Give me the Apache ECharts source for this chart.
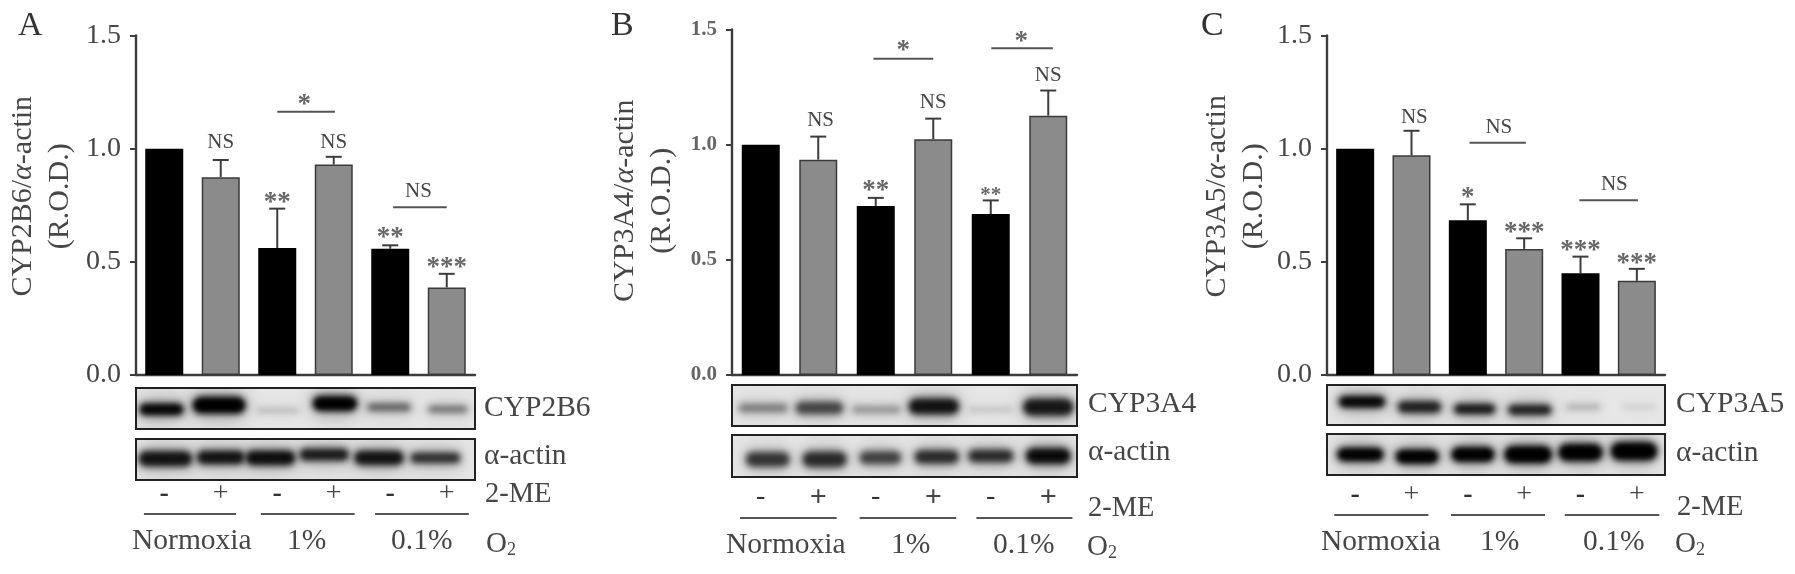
<!DOCTYPE html>
<html><head><meta charset="utf-8">
<style>html,body{margin:0;padding:0;background:#fff}#c{width:1795px;height:574px;filter:blur(.6px)}</style>
<script src="https://cdn.jsdelivr.net/npm/echarts@6/dist/echarts.min.js"></script>
</head><body><div id="c"></div>
<script>
// ---- data ----
const treatment = ['-', '+', '-', '+', '-', '+'];
const o2Groups = ['Normoxia', '1%', '0.1%'];
const yTicks = [0, 0.5, 1.0, 1.5];

const cyp2b6Mean = [1.0, 0.874, 0.561, 0.93, 0.558, 0.387];
const cyp2b6Upper = [null, 0.95, 0.735, 0.964, 0.573, 0.447];
const cyp3a4Mean = [1.0, 0.935, 0.734, 1.024, 0.699, 1.126];
const cyp3a4Upper = [null, 1.035, 0.769, 1.113, 0.758, 1.235];
const cyp3a5Mean = [1.0, 0.971, 0.684, 0.557, 0.45, 0.416];
const cyp3a5Upper = [null, 1.079, 0.754, 0.604, 0.523, 0.469];

// significance marks: [lane, value, text]
const cyp2b6Marks = [[1.0,1.026,'NS'],[3,1.029,'NS'],[2,0.788,'**'],[4,0.633,'**'],[5,0.497,'***'],[2.48,1.22,'*'],[4.5,0.812,'NS']];
const cyp3a4Marks = [[1.04,1.104,'NS'],[3,1.183,'NS'],[5,1.302,'NS'],[2,0.826,'**'],[4,0.807,'**'],[2.48,1.433,'*'],[4.53,1.473,'*']];
const cyp3a5Marks = [[1.05,1.136,'NS'],[2.55,1.095,'NS'],[2,0.807,'*'],[3,0.654,'***'],[4,0.576,'***'],[5,0.519,'***'],[4.6,0.84,'NS']];
// comparison brackets: [fromLane, toLane, value]
const cyp2b6Brackets = [[2,3.02,1.163],[4.05,5,0.741]];
const cyp3a4Brackets = [[1.96,3,1.373],[4.01,5.08,1.419]];
const cyp3a5Brackets = [[2.03,3.03,1.026],[3.98,5.02,0.772]];

// blot band density per lane
const cyp2b6Density = [.95,1,.1,1,.38,.32];
const actinADensity = [.8,.8,.85,.75,.8,.62];
const cyp3a4Density = [.28,.5,.2,.8,.08,.76];
const actinBDensity = [.58,.64,.52,.64,.64,.88];
const cyp3a5Density = [.95,.72,.78,.72,.14,.05];
const actinCDensity = [1,1,1,1,1,1];

// ---- layout ----
const SERIF = '"Liberation Serif","Times New Roman",serif';
const TXT = '#464646';
const OFFSCREEN = 4000;
const panels = [
 {letter:'A', lx:18, ly:11, left:136, right:475, top:35.5, bottom:375, tick:28, tickWeight:'normal', gap:57, nameShift:18, minusBold:true, plusBold:false,
  mean:cyp2b6Mean, upper:cyp2b6Upper, marks:cyp2b6Marks, brackets:cyp2b6Brackets, small:[],
  title:'CYP2B6', blots:[
   {name:'CYP2B6',top:388,bottom:429,dens:cyp2b6Density,off:[-.05,-.03,.01,.02,-.02,.02],y:[.52,.42,.55,.38,.47,.52],w:[.8,.95,.8,.8,.82,.75],h:[.3,.42,.18,.38,.24,.22]},
   {name:'α-actin',top:439,bottom:480,dens:actinADensity,off:[.02,0,-.12,-.17,-.2,-.2],y:[.48,.45,.46,.38,.46,.46],w:[.97,.87,.9,.9,.9,.92],h:[.4,.36,.38,.32,.38,.3]}],
  groups:[[-.36,1.27],[1.71,3.37],[3.73,5.39]], groupY:514, minusY:495,
  txt:{label:[484,408],actin:[484,456],me:[485,495],groupX:[132,287,391],groupTy:541,o2:[486,544]}},
 {letter:'B', lx:611, ly:11, left:732, right:1077, top:29.5, bottom:375, tick:21, tickWeight:'bold', gap:51, nameShift:3, minusBold:false, plusBold:true,
  mean:cyp3a4Mean, upper:cyp3a4Upper, marks:cyp3a4Marks, brackets:cyp3a4Brackets, small:[4],
  title:'CYP3A4', blots:[
   {name:'CYP3A4',top:385,bottom:426,dens:cyp3a4Density,off:[.04,.02,.01,.01,0,0],y:[.56,.56,.6,.52,.6,.54],w:[.9,.87,.9,.9,.82,.9],h:[.28,.36,.26,.42,.2,.46]},
   {name:'α-actin',top:435,bottom:477,dens:actinBDensity,off:[.12,.11,.08,.06,0,0],y:[.58,.58,.54,.52,.5,.5],w:[.8,.8,.76,.8,.82,.8],h:[.4,.42,.36,.36,.34,.4]}],
  groups:[[-.36,1.32],[1.72,3.4],[3.75,5.42]], groupY:518, minusY:498,
  txt:{label:[1088,404],actin:[1088,452],me:[1088,509],groupX:[726,891,993],groupTy:545,o2:[1087,547]}},
 {letter:'C', lx:1201, ly:11, left:1327, right:1665, top:35.5, bottom:375, tick:28, tickWeight:'normal', gap:54.5, nameShift:18, minusBold:true, plusBold:false,
  mean:cyp3a5Mean, upper:cyp3a5Upper, marks:cyp3a5Marks, brackets:cyp3a5Brackets, small:[],
  title:'CYP3A5', blots:[
   {name:'CYP3A5',top:385,bottom:425,dens:cyp3a5Density,off:[.12,.14,.12,.1,.05,.04],y:[.42,.55,.6,.62,.55,.55],w:[.84,.8,.76,.8,.66,.66],h:[.3,.32,.28,.28,.18,.18]},
   {name:'α-actin',top:434,bottom:475,dens:actinCDensity,off:[.09,.1,.09,.07,0,-.05],y:[.5,.55,.5,.5,.45,.42],w:[.84,.78,.78,.86,.8,.84],h:[.34,.36,.38,.44,.44,.46]}],
  groups:[[-.37,1.3],[1.7,3.37],[3.72,5.4]], groupY:515, minusY:496,
  txt:{label:[1676,404],actin:[1676,453],me:[1677,508],groupX:[1321,1480,1583],groupTy:542,o2:[1675,544]}}
];

const grid=[], xAxis=[], yAxis=[], series=[], graphic=[];

function text(x,y,t,size,extra){
  graphic.push({type:'text',x,y,silent:true,style:Object.assign({text:t,fontSize:size,fontFamily:SERIF,fill:TXT,verticalAlign:'middle',align:'left'},extra||{})});
}

// a soft blurred smear: only the shadow of an off-canvas pill reaches the picture
function smear(cx,cy,w,h,alpha,blur){
  return {type:'rect',shape:{x:cx-w/2-OFFSCREEN,y:cy-h/2,width:w,height:h,r:h/2},
    style:{fill:'#000',shadowBlur:blur,shadowColor:'rgba(0,0,0,'+alpha+')',shadowOffsetX:OFFSCREEN}};
}

panels.forEach(p=>{
  const g=grid.length;
  grid.push({left:p.left,top:p.top,width:p.right-p.left,height:p.bottom-p.top,containLabel:false});
  const xCat=xAxis.length;
  xAxis.push({type:'category',gridIndex:g,data:treatment,boundaryGap:true,
    axisTick:{show:false},axisLine:{onZero:false,lineStyle:{color:'#3c3c3c',width:2.4}},
    axisLabel:{interval:0,margin:p.minusY-p.bottom-15,fontFamily:SERIF,color:TXT,fontSize:28,
      formatter:v=>v==='-'?'{m|-}':'{p|+}',
      rich:{m:{fontSize:28,fontFamily:SERIF,fontWeight:p.minusBold?'bold':'normal',color:'#333'},
            p:{fontSize:p.plusBold?30:28,fontFamily:SERIF,fontWeight:p.plusBold?'bold':'normal',color:TXT}}}});
  const xAnn=xAxis.length;
  xAxis.push({type:'value',gridIndex:g,min:-.5,max:5.5,show:false});
  const yi=yAxis.length;
  yAxis.push({type:'value',gridIndex:g,min:yTicks[0],max:yTicks[3],interval:.5,splitLine:{show:false},
    axisLine:{show:true,onZero:false,lineStyle:{color:'#3c3c3c',width:2.4}},
    axisTick:{show:true,length:6,lineStyle:{color:'#3c3c3c',width:2}},
    axisLabel:{margin:15,fontSize:p.tick,fontWeight:p.tickWeight,fontFamily:SERIF,color:p.tickWeight==='bold'?'#666':TXT,formatter:v=>v.toFixed(1)},
    name:'{a|'+p.title+'/}{i|α}{a|-actin}\n{a|(R.O.D.)}',nameLocation:'middle',nameGap:p.gap,
    nameTextStyle:{padding:[0,0,0,p.nameShift],lineHeight:37,align:'center',
      rich:{a:{fontSize:30,fontFamily:SERIF,color:TXT,lineHeight:37},i:{fontSize:30,fontFamily:SERIF,fontStyle:'italic',color:TXT,lineHeight:37}}}});

  // error bars
  series.push({type:'custom',xAxisIndex:xCat,yAxisIndex:yi,z:1,silent:true,
    data:p.upper.map((u,i)=>[i,p.mean[i],u]).filter(d=>d[2]!=null),
    encode:{x:0,y:[1,2]},
    renderItem:(ps,api)=>{
      const a=api.coord([api.value(0),api.value(1)]), b=api.coord([api.value(0),api.value(2)]);
      const st={stroke:'#3c3c3c',lineWidth:2,fill:null};
      return {type:'group',children:[
        {type:'line',shape:{x1:a[0],y1:a[1],x2:b[0],y2:b[1]},style:st},
        {type:'line',shape:{x1:b[0]-8,y1:b[1],x2:b[0]+8,y2:b[1]},style:st}]};
    }});
  // bars
  series.push({type:'bar',xAxisIndex:xCat,yAxisIndex:yi,barWidth:38,z:2,silent:true,
    data:p.mean.map((v,i)=>({value:v,itemStyle:{color:i%2?'#8b8b8b':'#000',borderColor:i%2?'#3a3a3a':'#000',borderWidth:1.5}}))});
  // brackets
  series.push({type:'custom',xAxisIndex:xAnn,yAxisIndex:yi,z:3,silent:true,clip:false,data:p.brackets,
    encode:{x:[0,1],y:2},
    renderItem:(ps,api)=>{
      const a=api.coord([api.value(0),api.value(2)]), b=api.coord([api.value(1),api.value(2)]);
      return {type:'line',shape:{x1:a[0],y1:a[1],x2:b[0],y2:b[1]},style:{stroke:'#555',lineWidth:2}};
    }});
  // marks
  series.push({type:'custom',xAxisIndex:xAnn,yAxisIndex:yi,z:3,silent:true,clip:false,data:p.marks,
    encode:{x:0,y:1},
    renderItem:(ps,api)=>{
      const c=api.coord([api.value(0),api.value(1)]), t=p.marks[ps.dataIndex][2];
      const star=t[0]==='*', small=p.small.includes(ps.dataIndex);
      return {type:'text',x:c[0],y:c[1]+(star?6:0),style:{text:t,fontFamily:SERIF,fontWeight:star?'bold':'normal',fontSize:star?(small?21:27):21,
        fill:star?'#666':TXT,align:'center',verticalAlign:'middle'}};
    }});
  // O2 group lines
  series.push({type:'custom',xAxisIndex:xAnn,yAxisIndex:yi,z:3,silent:true,clip:false,data:p.groups,
    encode:{x:[0,1]},
    renderItem:(ps,api)=>{
      const a=api.coord([api.value(0),0])[0], b=api.coord([api.value(1),0])[0];
      return {type:'line',shape:{x1:a,y1:p.groupY,x2:b,y2:p.groupY},style:{stroke:'#555',lineWidth:2}};
    }});

  // blots
  p.blots.forEach(b=>{
    const gb=grid.length;
    grid.push({left:p.left,top:b.top,width:p.right-p.left,height:b.bottom-b.top,show:true,
      backgroundColor:'#e6e6e6',borderColor:'#222',borderWidth:2});
    const xb=xAxis.length;
    xAxis.push({type:'value',gridIndex:gb,min:-.5,max:5.5,show:false});
    const yb=yAxis.length;
    yAxis.push({type:'value',gridIndex:gb,min:0,max:1,inverse:true,show:false});
    series.push({type:'custom',xAxisIndex:xb,yAxisIndex:yb,clip:true,silent:true,
      data:b.dens.map((d,i)=>[i+b.off[i],b.y[i],b.w[i],b.h[i],d]),
      encode:{x:0,y:1},
      renderItem:(ps,api)=>{
        const c=api.coord([api.value(0),api.value(1)]), s=api.size([api.value(2),api.value(3)]), d=api.value(4);
        return {type:'group',children:[
          smear(c[0],c[1],s[0]+4,s[1]+14,d*.22,18),
          smear(c[0],c[1],s[0],s[1],d,7),
          smear(c[0],c[1],s[0]-6,s[1]*.6,d*.7,5)]};
      }});
  });

  // free text
  text(p.lx,p.ly+15,p.letter,34,{fill:'#333'});
  text(p.txt.label[0],p.txt.label[1],p.blots[0].name,29.5);
  text(p.txt.actin[0],p.txt.actin[1],'α-actin',29.5);
  text(p.txt.me[0],p.txt.me[1],'2-ME',28.5);
  o2Groups.forEach((g,i)=>text(p.txt.groupX[i],p.txt.groupTy,g,29.5));
  text(p.txt.o2[0],p.txt.o2[1],'O{s|2}',29,{rich:{s:{fontSize:18,fontFamily:SERIF,fill:TXT,verticalAlign:'bottom',padding:[12,0,0,0]}}});
});

const chart=echarts.init(document.getElementById('c'),null,{renderer:'canvas'});
chart.setOption({animation:false,backgroundColor:'#fff',grid,xAxis,yAxis,series,graphic});
</script></body></html>
